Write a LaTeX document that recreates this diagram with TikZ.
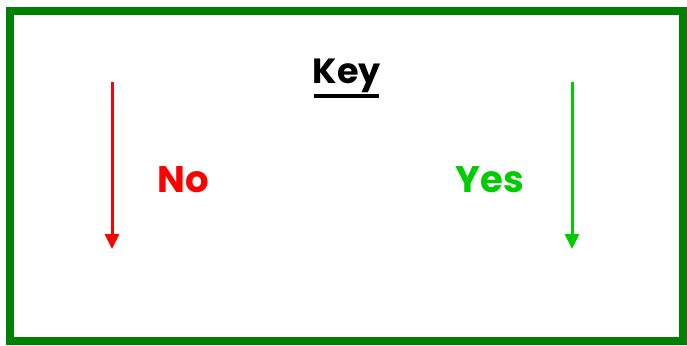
\documentclass[tikz,border=0pt]{standalone}
\usepackage{fontspec}
\setmainfont{Poppins}
\usetikzlibrary{arrows.meta}
\definecolor{bordergreen}{HTML}{008000}
\definecolor{yesgreen}{HTML}{00CC00}
\definecolor{nored}{HTML}{FF0000}
\tikzset{
  keyarrow/.style={line width=3pt,-{Triangle[width=14pt,length=15pt]}},
  lbl/.style={font=\fontsize{37}{44}\selectfont\bfseries, inner sep=0pt},
}
\begin{document}
\begin{tikzpicture}[x=1pt,y=-1pt]
\useasboundingbox (0,0) rectangle (687,345);
\fill[white] (0,0) rectangle (687,345);
\draw[bordergreen, line width=8pt] (10,11) rectangle (683,341);
\node[lbl, font=\fontsize{35}{42}\selectfont\bfseries, text=black] (key) at (347,76) {Key};
\draw[line width=3.5pt] (314,96) -- (379,96);
\coordinate (r1) at (112,82);
\coordinate (r2) at (112,249);
\coordinate (g1) at (572,82);
\coordinate (g2) at (572,249);
\draw[keyarrow, nored] (r1) -- (r2);
\draw[keyarrow, yesgreen] (g1) -- (g2);
\node[lbl, text=nored] (no) at (183,180) {No};
\node[lbl, text=yesgreen] (yes) at (490,180) {Yes};
\end{tikzpicture}
\end{document}
